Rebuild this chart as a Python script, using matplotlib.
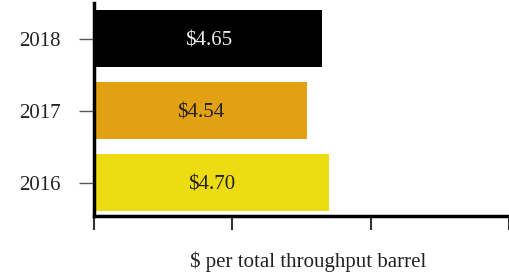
import matplotlib
matplotlib.use("Agg")
import matplotlib.pyplot as plt

years = ["2016", "2017", "2018"]
values = [4.70, 4.54, 4.65]
labels = ["$4.70", "$4.54", "$4.65"]
colors = ["#EDDC12", "#E2A013", "#000000"]
text_colors = ["#222222", "#222222", "#EEEEEE"]
x_min = 3
x_ticks = [3, 4, 5, 6]

plt.rcParams['font.family'] = ['Liberation Serif', 'DejaVu Serif']

fig = plt.figure(figsize=(5.09, 2.79), dpi=100)
ax = fig.add_axes([0.1847, 0.2258, 0.8153, 0.7634])

ypos = list(range(len(years)))
ax.barh(ypos, [v - x_min for v in values], left=x_min, height=0.79, color=colors)
for y, v, lab, tc in zip(ypos, values, labels, text_colors):
    ax.text((x_min + v) / 2, y, lab, ha="center", va="center_baseline", color=tc, fontsize=15)

ax.set_xlim(3, 6.0)
ax.set_ylim(-0.465, 2.493)
ax.set_yticks(ypos)
ax.set_yticklabels(years, fontsize=15, color="#222222")
ax.set_xticks(x_ticks)
ax.set_xticklabels([])
ax.tick_params(axis="y", length=11, width=1, color="#555555", pad=13)
ax.tick_params(axis="x", length=10, width=1.5, color="#333333", direction="out")
for s in ["top", "right"]:
    ax.spines[s].set_visible(False)
ax.spines["left"].set_linewidth(2.5)
ax.spines["bottom"].set_linewidth(2.5)
fig.text(308 / 509, 1 - 262 / 279, "$ per total throughput barrel", ha="center", va="center",
         fontsize=15, color="#222222")

fig.savefig("out.png", dpi=100)
